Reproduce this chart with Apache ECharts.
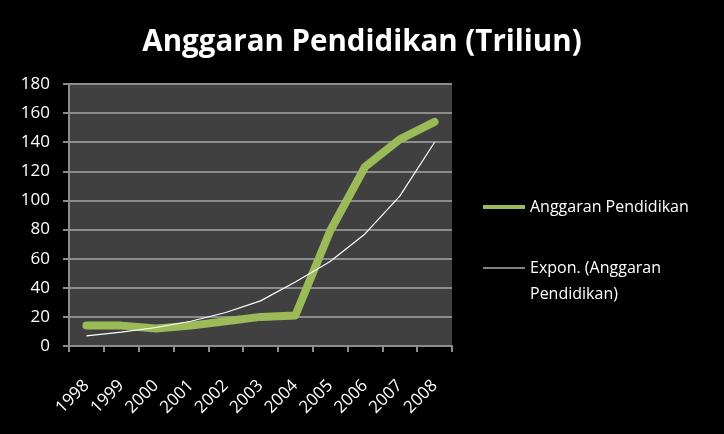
<!DOCTYPE html>
<html>
<head>
<meta charset="utf-8">
<script src="https://cdn.jsdelivr.net/npm/echarts@6/dist/echarts.min.js"></script>
<style>html,body{margin:0;padding:0;background:#000;}#c{width:724px;height:434px;}</style>
</head>
<body>
<div id="c"></div>
<script>
const years = ['1998','1999','2000','2001','2002','2003','2004','2005','2006','2007','2008'];
const anggaran = [14, 14, 12, 14, 17, 20, 21, 79, 123, 142, 154];
const expon = [7, 9.5, 12.7, 17, 23, 31, 44, 58, 77, 103, 140];
const yTicks = {min: 0, max: 180, interval: 20};
const titleText = 'Anggaran Pendidikan (Triliun)';
const seriesNames = ['Anggaran Pendidikan', 'Expon. (Anggaran Pendidikan)'];

const chart = echarts.init(document.getElementById('c'));
chart.setOption({
  backgroundColor: '#000',
  animation: false,
  title: {
    text: titleText, left: 'center', top: 23,
    textStyle: {color: '#fff', fontSize: 29.5, fontWeight: 'bold', fontFamily: 'Open Sans'}
  },
  grid: {left: 69, right: 272, top: 84, bottom: 88, show: true, backgroundColor: '#404040', borderWidth: 0},
  legend: {
    orient: 'vertical', left: 478, top: 189, itemGap: 9, itemWidth: 42, itemHeight: 10,
    textStyle: {color: '#fff', fontSize: 16, fontFamily: 'Open Sans', lineHeight: 26},
    formatter: function (n) { return n === seriesNames[1] ? '\nExpon. (Anggaran\nPendidikan)' : n; },
    data: [
      {name: seriesNames[0], icon: 'path://M0,0 L42,0 L42,4 L0,4 Z'},
      {name: seriesNames[1], icon: 'path://M0,0 L42,0 L42,1 L0,1 Z'}
    ]
  },
  xAxis: {
    type: 'category', data: years, boundaryGap: true,
    axisLine: {lineStyle: {color: '#8c8c8c', width: 2}},
    axisTick: {show: true, length: 6, lineStyle: {color: '#8c8c8c', width: 2}},
    axisLabel: {color: '#fff', fontSize: 17, rotate: 45, fontFamily: 'Open Sans', margin: 37}
  },
  yAxis: {
    type: 'value', min: yTicks.min, max: yTicks.max, interval: yTicks.interval,
    axisLine: {show: true, lineStyle: {color: '#8c8c8c', width: 2}},
    axisTick: {show: true, length: 6, lineStyle: {color: '#8c8c8c', width: 2}},
    splitLine: {show: true, lineStyle: {color: '#8c8c8c', width: 2}},
    axisLabel: {color: '#fff', fontSize: 17, fontFamily: 'Open Sans', margin: 19}
  },
  series: [
    {
      name: seriesNames[0], type: 'line', data: anggaran, showSymbol: false, symbol: 'none',
      lineStyle: {color: '#9bbb59', width: 8, cap: 'round', join: 'round'},
      itemStyle: {color: '#9bbb59'}, z: 3
    },
    {
      name: seriesNames[1], type: 'line', data: expon, showSymbol: false, symbol: 'none',
      lineStyle: {color: '#ffffff', width: 1.2},
      itemStyle: {color: '#ffffff'}, z: 4
    }
  ]
});
</script>
</body>
</html>
